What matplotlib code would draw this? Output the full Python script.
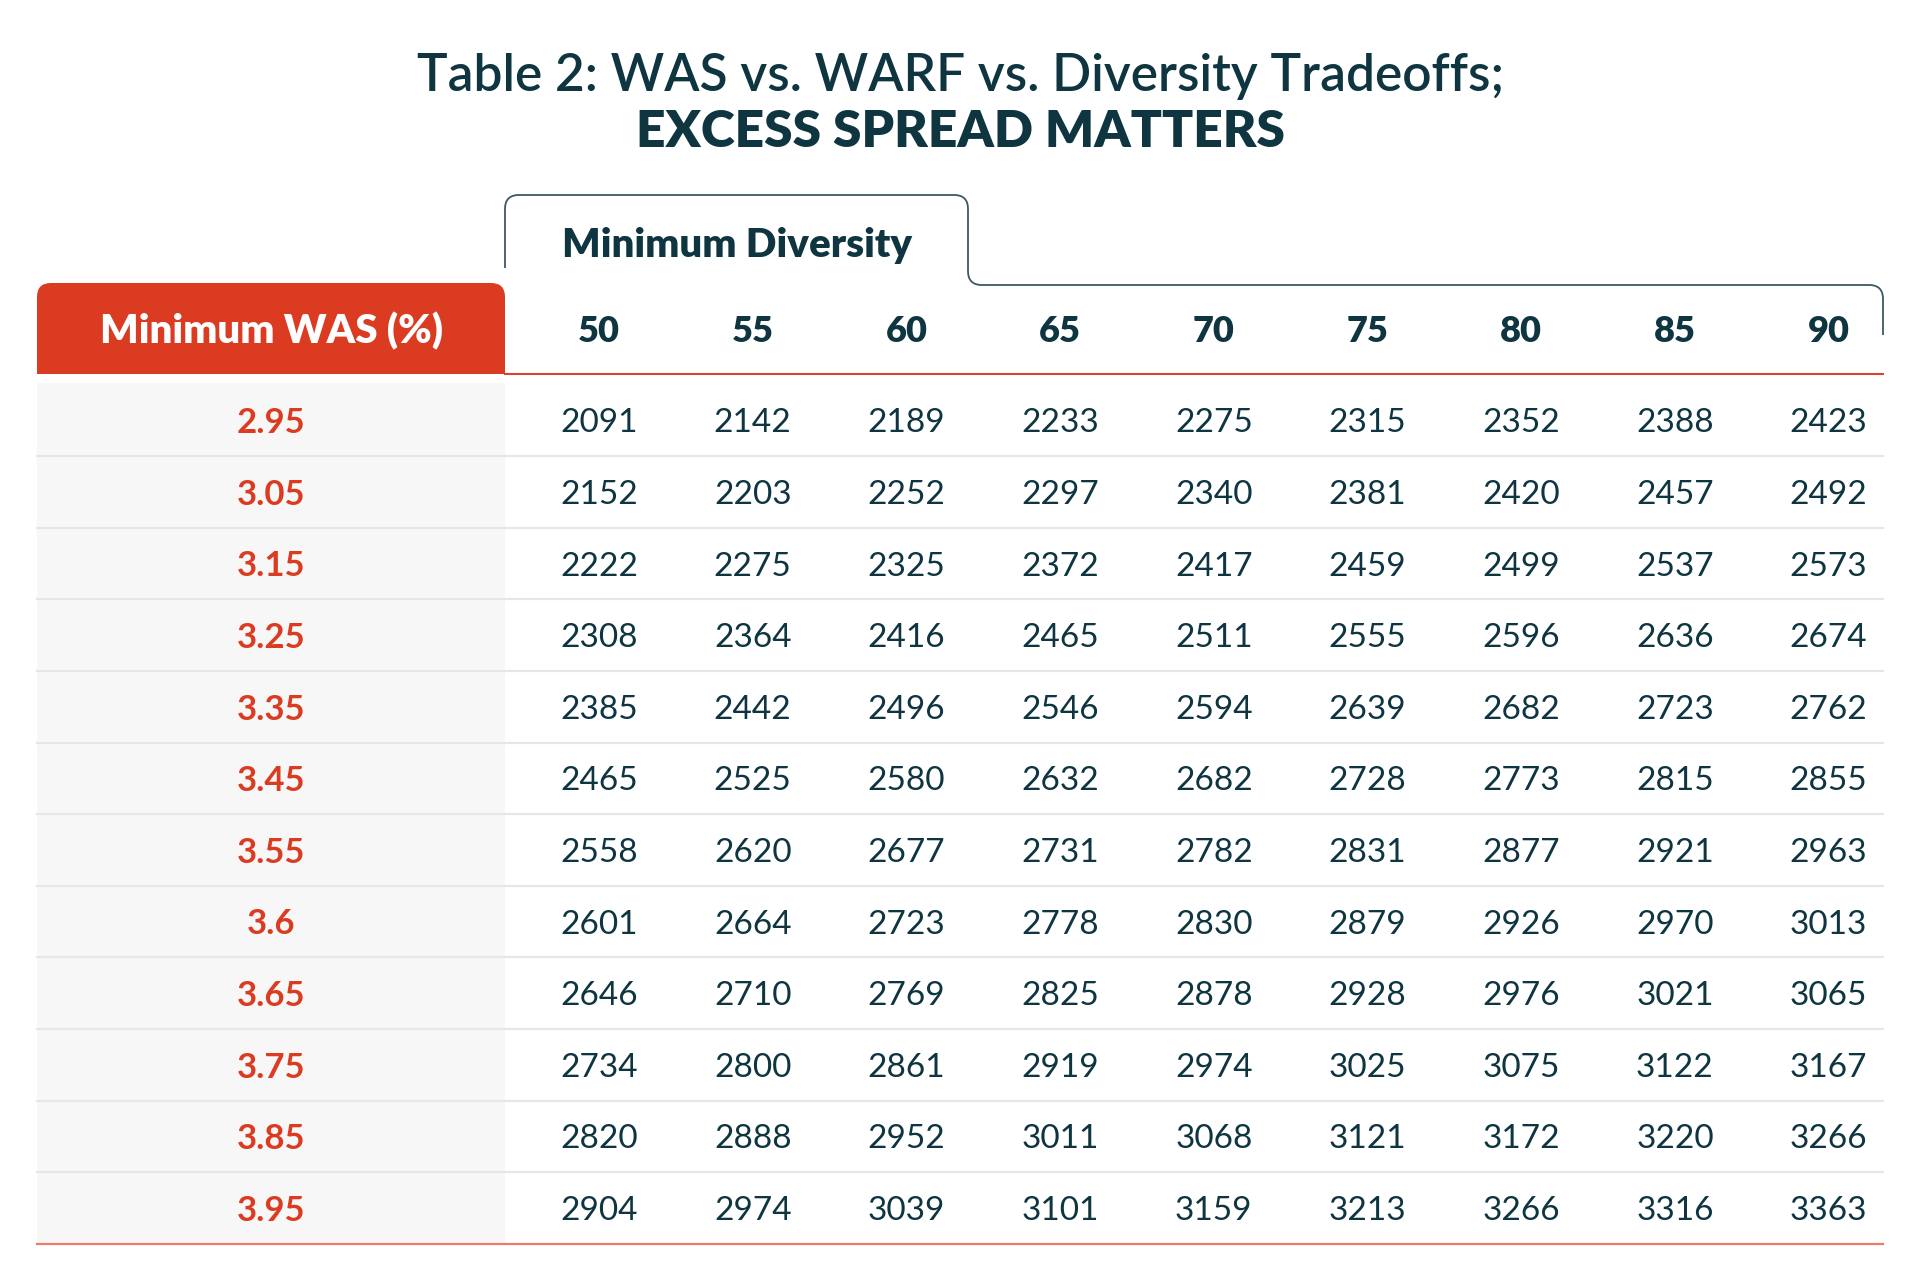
import matplotlib
matplotlib.use("Agg")
import matplotlib.pyplot as plt
from matplotlib.patches import Rectangle, FancyBboxPatch
import numpy as np

# ---- data ----
was_levels = ["2.95", "3.05", "3.15", "3.25", "3.35", "3.45", "3.55", "3.6", "3.65", "3.75", "3.85", "3.95"]
diversity = [50, 55, 60, 65, 70, 75, 80, 85, 90]
warf = [
    [2091, 2142, 2189, 2233, 2275, 2315, 2352, 2388, 2423],
    [2152, 2203, 2252, 2297, 2340, 2381, 2420, 2457, 2492],
    [2222, 2275, 2325, 2372, 2417, 2459, 2499, 2537, 2573],
    [2308, 2364, 2416, 2465, 2511, 2555, 2596, 2636, 2674],
    [2385, 2442, 2496, 2546, 2594, 2639, 2682, 2723, 2762],
    [2465, 2525, 2580, 2632, 2682, 2728, 2773, 2815, 2855],
    [2558, 2620, 2677, 2731, 2782, 2831, 2877, 2921, 2963],
    [2601, 2664, 2723, 2778, 2830, 2879, 2926, 2970, 3013],
    [2646, 2710, 2769, 2825, 2878, 2928, 2976, 3021, 3065],
    [2734, 2800, 2861, 2919, 2974, 3025, 3075, 3122, 3167],
    [2820, 2888, 2952, 3011, 3068, 3121, 3172, 3220, 3266],
    [2904, 2974, 3039, 3101, 3159, 3213, 3266, 3316, 3363],
]
title_1 = "Table 2: WAS vs. WARF vs. Diversity Tradeoffs;"
title_2 = "EXCESS SPREAD MATTERS"

# ---- style ----
DARK = "#0e3540"
RED = "#da3b21"
LINE_RED = "#d9442f"
BOTTOM_RED = "#ee7b66"
GRAY_BG = "#f7f7f7"
SEP = "#e6e6e6"
TAB = "#3d5863"
plt.rcParams["font.family"] = ["Lato", "DejaVu Sans"]

W, H = 1921, 1281
fig = plt.figure(figsize=(W / 100, H / 100), dpi=100)
ax = fig.add_axes([0, 0, 1, 1])
ax.set_xlim(0, W)
ax.set_ylim(H, 0)
ax.axis("off")

# layout in pixel space
x_left, x_split, x_right = 37, 505, 1883
col_x0, col_dx = 599, 153.7
row_top, row_h = 384.5, 71.6
head_top, head_bot = 283, 374
label_x = 271


def rounded_path(pts, r):
    # polyline with rounded corners
    out = [pts[0]]
    for i in range(1, len(pts) - 1):
        p0, p1, p2 = np.array(pts[i - 1]), np.array(pts[i]), np.array(pts[i + 1])
        d1 = (p0 - p1) / np.linalg.norm(p0 - p1)
        d2 = (p2 - p1) / np.linalg.norm(p2 - p1)
        a = p1 + d1 * r
        b = p1 + d2 * r
        for tt in np.linspace(0, 1, 12):
            q = (1 - tt) ** 2 * a + 2 * (1 - tt) * tt * p1 + tt ** 2 * b
            out.append(tuple(q))
    out.append(pts[-1])
    return np.array(out)


# titles
ax.text(W / 2, 76, title_1, ha="center", va="center", fontsize=37, color=DARK, fontweight="semibold")
ax.text(W / 2, 132, title_2, ha="center", va="center", fontsize=37, color=DARK, fontweight="heavy")

# tab outline for "Minimum Diversity"
tab = rounded_path([(x_split, 268), (x_split, 195), (968, 195), (968, 285), (x_right, 285), (x_right, 335)], 14)
ax.plot(tab[:, 0], tab[:, 1], color=TAB, lw=1.3, solid_capstyle="butt")
ax.text((x_split + 968) / 2, 246, "Minimum Diversity", ha="center", va="center",
        fontsize=29, color=DARK, fontweight="heavy")

# red header box with rounded top
ax.add_patch(FancyBboxPatch((x_left, head_top), x_split - x_left, head_bot - head_top,
                            boxstyle="round,pad=0,rounding_size=14", fc=RED, ec="none"))
ax.add_patch(Rectangle((x_left, head_top + 30), x_split - x_left, head_bot - head_top - 30, fc=RED, ec="none"))
ax.text((x_left + x_split) / 2, 331, "Minimum WAS (%)", ha="center", va="center",
        fontsize=29, color="white", fontweight="heavy")

# column headers
for i, d in enumerate(diversity):
    ax.text(col_x0 + i * col_dx, 332, str(d), ha="center", va="center",
            fontsize=26, color=DARK, fontweight="heavy")
ax.plot([x_split, x_right], [head_bot, head_bot], color=LINE_RED, lw=1.5)

# body
n_rows = len(was_levels)
ax.add_patch(Rectangle((x_left, row_top - 2), x_split - x_left, n_rows * row_h + 2, fc=GRAY_BG, ec="none"))
for j, was in enumerate(was_levels):
    yc = row_top + (j + 0.5) * row_h + 3
    ax.text(label_x, yc, was, ha="center", va="center", fontsize=25, color=RED, fontweight="bold")
    for i, v in enumerate(warf[j]):
        ax.text(col_x0 + i * col_dx, yc, str(v), ha="center", va="center",
                fontsize=24, color=DARK, fontweight="normal")
    if j < n_rows - 1:
        yb = row_top + (j + 1) * row_h
        ax.plot([x_left, x_right], [yb, yb], color=SEP, lw=1.6)

yb = row_top + n_rows * row_h
ax.plot([x_left, x_right], [yb, yb], color=BOTTOM_RED, lw=1.6)

fig.savefig("out.png", dpi=100, facecolor="white")
